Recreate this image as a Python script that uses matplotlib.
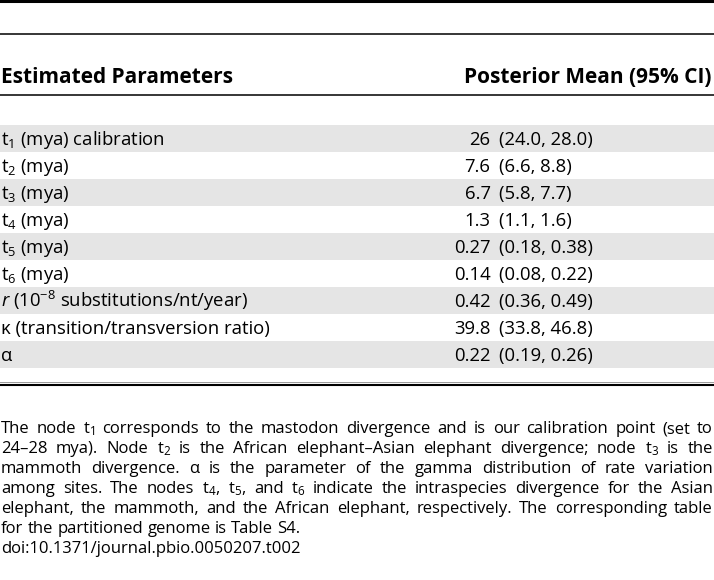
import matplotlib
matplotlib.use('Agg')
import matplotlib.pyplot as plt

plt.rcParams['font.family'] = ['Open Sans', 'DejaVu Sans']
plt.rcParams['mathtext.fontset'] = 'custom'
plt.rcParams['mathtext.rm'] = 'Open Sans'
plt.rcParams['mathtext.it'] = 'Open Sans:italic'
plt.rcParams['mathtext.bf'] = 'Open Sans:bold'

# table content
header_left = 'Estimated Parameters'
header_right = 'Posterior Mean (95% CI)'

params = [r't${}_1$ (mya) calibration',
          r't${}_2$ (mya)',
          r't${}_3$ (mya)',
          r't${}_4$ (mya)',
          r't${}_5$ (mya)',
          r't${}_6$ (mya)',
          r'$\mathit{r}$ (10$^{-8}$ substitutions/nt/year)',
          'κ (transition/transversion ratio)',
          'α']
means = ['26', '7.6', '6.7', '1.3', '0.27', '0.14', '0.42', '39.8', '0.22']
intervals = ['(24.0, 28.0)', '(6.6, 8.8)', '(5.8, 7.7)', '(1.1, 1.6)',
             '(0.18, 0.38)', '(0.08, 0.22)', '(0.36, 0.49)',
             '(33.8, 46.8)', '(0.19, 0.26)']

# footnote, line by line as printed (True = justified)
note_lines = [
    (r'The node t${}_1$ corresponds to the mastodon divergence and is our calibration point (set to', True),
    (r'24–28 mya). Node t${}_2$ is the African elephant–Asian elephant divergence; node t${}_3$ is the', True),
    ('mammoth divergence. α is the parameter of the gamma distribution of rate variation', True),
    (r'among sites. The nodes t${}_4$, t${}_5$, and t${}_6$ indicate the intraspecies divergence for the Asian', True),
    ('elephant, the mammoth, and the African elephant, respectively. The corresponding table', True),
    ('for the partitioned genome is Table S4.', False),
    ('doi:10.1371/journal.pbio.0050207.t002', False),
]

W, H = 714, 580
fig = plt.figure(figsize=(W / 100, H / 100), dpi=100)
ax = fig.add_axes([0, 0, 1, 1])
ax.set_xlim(0, W)
ax.set_ylim(H, 0)
ax.axis('off')

# rules
ax.axhline(1.2, color='black', lw=2.2)
ax.axhline(34, color='black', lw=1.1)
ax.axhline(95, color='black', lw=1.1)
ax.axhline(382, color='#9a9a9a', lw=0.7)
ax.axhline(384.8, color='black', lw=1.5)

# header
ax.text(1, 83, header_left, fontsize=15, fontweight='bold', ha='left', va='baseline')
ax.text(712, 83, header_right, fontsize=15, fontweight='bold', ha='right', va='baseline')

# rows
row_top = 125
row_h = 27
for i, (p, m, ci) in enumerate(zip(params, means, intervals)):
    y0 = row_top + i * row_h
    if i % 2 == 0:
        ax.axhspan(y0, y0 + row_h, color='#e5e5e5', lw=0)
    yb = y0 + 20
    ax.text(1, yb, p, fontsize=13.3, ha='left', va='baseline')
    ax.text(490.5, yb, m, fontsize=13.3, ha='right', va='baseline')
    ax.text(499, yb, ci, fontsize=13.3, ha='left', va='baseline')

# footnote, justified word by word
fig.canvas.draw()
rend = fig.canvas.get_renderer()
note_fs = 12.0
left, right = 1, 713
base0, dy = 433, 20
space_w = 0.26 * note_fs * 100 / 72
for i, (line, just) in enumerate(note_lines):
    yb = base0 + i * dy
    words = line.split(' ')
    objs = [ax.text(0, yb, w, fontsize=note_fs, ha='left', va='baseline') for w in words]
    widths = [o.get_window_extent(rend).width for o in objs]
    if just and len(words) > 1:
        gap = (right - left - sum(widths)) / (len(words) - 1)
    else:
        gap = space_w
    x = left
    for o, w in zip(objs, widths):
        o.set_x(x)
        x += w + gap

fig.savefig('out.png', dpi=100)
